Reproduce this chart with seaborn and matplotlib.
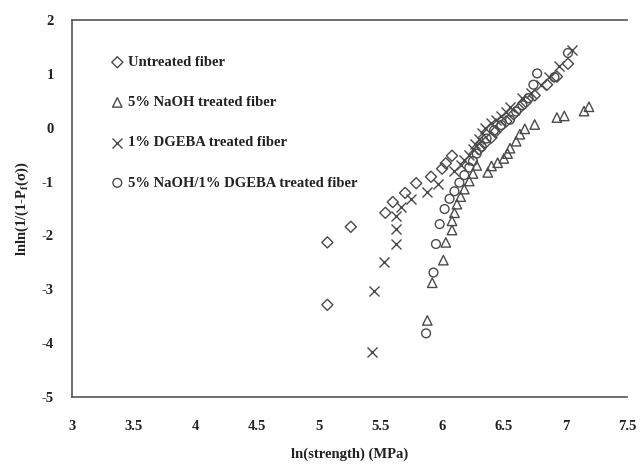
import matplotlib
matplotlib.use("Agg")
import matplotlib.pyplot as plt
import seaborn as sns
import pandas as pd

# ---- data ----
labels = ["Untreated fiber", "5% NaOH treated fiber", "1% DGEBA treated fiber",
          "5% NaOH/1% DGEBA treated fiber"]

untreated_x = [5.07, 5.07, 5.26, 5.54, 5.60, 5.70, 5.79, 5.91, 6.00, 6.03, 6.08,
               6.30, 6.35, 6.40, 6.43, 6.47, 6.52, 6.58, 6.62, 6.68, 6.75, 6.85, 6.93, 7.02]
untreated_y = [-3.29, -2.13, -1.84, -1.58, -1.38, -1.21, -1.03, -0.91, -0.76, -0.66, -0.52,
               -0.40, -0.28, -0.18, -0.08, 0.02, 0.12, 0.25, 0.35, 0.48, 0.60, 0.80, 0.95, 1.19]

naoh_x = [5.88, 5.92, 6.01, 6.03, 6.08, 6.08, 6.10, 6.12, 6.15, 6.18, 6.22, 6.25, 6.28,
          6.37, 6.40, 6.45, 6.50, 6.53, 6.55, 6.60, 6.63, 6.67, 6.75, 6.93, 6.99, 7.15, 7.19]
naoh_y = [-3.58, -2.88, -2.46, -2.13, -1.90, -1.73, -1.58, -1.42, -1.28, -1.14, -0.99, -0.85, -0.70,
          -0.83, -0.71, -0.65, -0.57, -0.48, -0.38, -0.25, -0.12, -0.02, 0.06, 0.19, 0.22, 0.31, 0.39]

dgeba_x = [5.43, 5.45, 5.53, 5.63, 5.63, 5.63, 5.67, 5.75, 5.88, 5.97, 6.10, 6.15, 6.18, 6.22,
           6.25, 6.27, 6.30, 6.32, 6.35, 6.40, 6.44, 6.48, 6.52, 6.55, 6.65, 6.72, 6.80, 6.87,
           6.95, 7.05]
dgeba_y = [-4.16, -3.03, -2.50, -2.16, -1.89, -1.64, -1.48, -1.33, -1.19, -1.05, -0.80, -0.70,
           -0.60, -0.50, -0.40, -0.30, -0.20, -0.10, 0.00, 0.08, 0.15, 0.22, 0.30, 0.38, 0.55,
           0.65, 0.80, 0.95, 1.15, 1.45]

combo_x = [5.87, 5.93, 5.95, 5.98, 6.02, 6.06, 6.10, 6.14, 6.18, 6.22, 6.25, 6.28, 6.32, 6.36,
           6.42, 6.48, 6.55, 6.60, 6.65, 6.70, 6.74, 6.77, 6.91, 7.02]
combo_y = [-3.82, -2.69, -2.16, -1.79, -1.51, -1.32, -1.18, -1.02, -0.88, -0.74, -0.62, -0.48,
           -0.35, -0.20, -0.05, 0.05, 0.15, 0.30, 0.42, 0.55, 0.80, 1.01, 0.94, 1.39]

xticks = [3, 3.5, 4, 4.5, 5, 5.5, 6, 6.5, 7, 7.5]
xtick_labels = ["3", "3.5", "4", "4.5", "5", "5.5", "6", "6.5", "7", "7.5"]
yticks = [-5, -4, -3, -2, -1, 0, 1, 2]
ytick_labels = ["-5", "-4", "-3", "-2", "-1", "0", "1", "2"]

frames = []
for lab, xs, ys in zip(labels, [untreated_x, naoh_x, dgeba_x, combo_x],
                       [untreated_y, naoh_y, dgeba_y, combo_y]):
    frames.append(pd.DataFrame({"x": xs, "y": ys, "series": lab}))
df = pd.concat(frames, ignore_index=True)

# ---- style ----
sns.set_theme(style="white")
plt.rcParams["font.family"] = ["Liberation Serif", "DejaVu Serif"]
plt.rcParams["font.weight"] = "bold"
plt.rcParams["mathtext.default"] = "regular"
plt.rcParams["axes.unicode_minus"] = False

gray = "#4a4a4a"
markers = {labels[0]: "D", labels[1]: "^", labels[2]: "x", labels[3]: "o"}
sizes = {labels[0]: 32, labels[1]: 46, labels[2]: 52, labels[3]: 40}

fig = plt.figure(figsize=(6.42, 4.68), dpi=100)
ax = fig.add_axes([0.112, 0.152, 0.865, 0.805])

for lab in labels:
    sub = df[df["series"] == lab]
    if markers[lab] == "x":
        sns.scatterplot(data=sub, x="x", y="y", marker="x", s=sizes[lab], color=gray,
                        linewidth=1.0, ax=ax, label=lab)
    else:
        sns.scatterplot(data=sub, x="x", y="y", marker=markers[lab], s=sizes[lab],
                        facecolor="none", edgecolor=gray, linewidth=1.0, ax=ax, label=lab)

ax.set_xlim(3, 7.5)
ax.set_ylim(-5, 2)
ax.set_xticks(xticks)
ax.set_xticklabels(xtick_labels)
ax.set_yticks(yticks)
ax.set_yticklabels(ytick_labels)

for s in ["left", "bottom", "top"]:
    ax.spines[s].set_visible(True)
    ax.spines[s].set_color("#555555")
    ax.spines[s].set_linewidth(1.2)
ax.spines["right"].set_visible(False)

ax.tick_params(axis="both", direction="out", length=5, width=1, color="#555555",
               labelsize=10.5, labelcolor="#222222", pad=8)
ax.tick_params(axis="x", pad=12)
for t in ax.get_xticklabels() + ax.get_yticklabels():
    t.set_fontweight("bold")

ax.set_xlabel("ln(strength) (MPa)", fontsize=10.5, fontweight="bold", color="#222222",
              labelpad=10)
ax.set_ylabel(r"lnln(1/(1-P$_f$(σ))", fontsize=10.5, fontweight="bold", color="#222222",
              labelpad=8)

leg = ax.legend(loc="upper left", bbox_to_anchor=(0.045, 0.94), frameon=False,
                fontsize=10.5, labelspacing=1.85, handletextpad=0.2, handlelength=1.0,
                borderaxespad=0.5)
for t in leg.get_texts():
    t.set_fontweight("bold")
    t.set_color("#222222")

fig.savefig("out.png", dpi=100)
